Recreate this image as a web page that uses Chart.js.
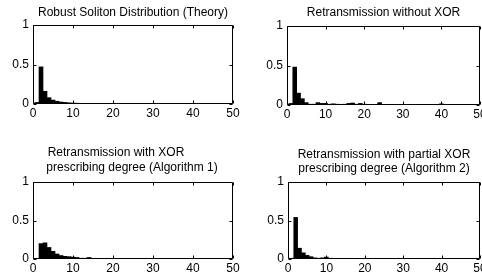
<!DOCTYPE html>
<html>
<head>
<meta charset="utf-8">
<script src="https://cdn.jsdelivr.net/npm/chart.js@4/dist/chart.umd.min.js"></script>
<style>
html, body { margin: 0; padding: 0; background: #fff; overflow: hidden; width: 482px; height: 279px; }
canvas { position: absolute; }
</style>
</head>
<body>
<canvas id="c1" width="241" height="140" style="left:0;top:0"></canvas>
<canvas id="c2" width="260" height="140" style="left:241px;top:0"></canvas>
<canvas id="c3" width="241" height="139" style="left:0;top:140px"></canvas>
<canvas id="c4" width="260" height="139" style="left:241px;top:140px"></canvas>
<script>
// degree 1..50
var degrees = [1, 2, 3, 4, 5, 6, 7, 8, 9, 10,
    11, 12, 13, 14, 15, 16, 17, 18, 19, 20,
    21, 22, 23, 24, 25, 26, 27, 28, 29, 30,
    31, 32, 33, 34, 35, 36, 37, 38, 39, 40,
    41, 42, 43, 44, 45, 46, 47, 48, 49, 50];

// 理论分布
var theory = [0.02, 0.47, 0.16, 0.08, 0.05, 0.035, 0.025, 0.02, 0.015, 0.012,
    0.01, 0.008, 0.007, 0.006, 0.005, 0.004, 0.004, 0.003, 0, 0,
    0, 0, 0, 0, 0, 0, 0, 0, 0, 0,
    0, 0, 0, 0, 0, 0, 0, 0, 0, 0,
    0, 0, 0, 0, 0, 0, 0, 0, 0, 0];

// 无XOR重传
var noXor = [0.02, 0.48, 0.15, 0.08, 0.03, 0.01, 0.01, 0.03, 0.02, 0.02,
    0.01, 0.015, 0.01, 0.005, 0.01, 0.02, 0.025, 0.01, 0.02, 0.01,
    0, 0, 0, 0.03, 0, 0, 0, 0, 0, 0.005,
    0, 0, 0, 0, 0, 0, 0, 0, 0, 0.015,
    0, 0, 0, 0, 0, 0, 0, 0, 0, 0];

// 算法1
var alg1 = [0, 0.20, 0.21, 0.15, 0.10, 0.065, 0.045, 0.035, 0.03, 0.025,
    0.02, 0.01, 0.01, 0.02, 0.005, 0.005, 0.003, 0.003, 0, 0,
    0, 0, 0, 0, 0, 0.004, 0, 0, 0, 0,
    0, 0, 0, 0, 0, 0, 0, 0, 0, 0,
    0, 0, 0, 0, 0, 0, 0, 0, 0, 0];

// 算法2
var alg2 = [0.01, 0.54, 0.14, 0.08, 0.047, 0.03, 0.015, 0.01, 0.015, 0.025,
    0.01, 0, 0.005, 0.005, 0, 0, 0, 0, 0, 0,
    0, 0, 0, 0, 0, 0, 0, 0, 0, 0,
    0, 0, 0, 0, 0, 0, 0, 0, 0, 0,
    0, 0, 0, 0, 0, 0, 0, 0, 0, 0];

var xTicks = [0, 10, 20, 30, 40, 50];
var yTicks = [0, 0.5, 1];

var FONT = '"Liberation Sans", Arial, Helvetica, sans-serif';

// 边框和内向刻度
var framePlugin = {
    id: 'mframe',
    afterDatasetsDraw: function (chart) {
        var a = chart.chartArea, ctx = chart.ctx;
        var xs = chart.scales.x, ys = chart.scales.y;
        var l = Math.round(a.left) + 0.5, r = Math.round(a.right) - 0.5;
        var t = Math.round(a.top) + 0.5, b = Math.round(a.bottom) - 0.5;
        ctx.save();
        ctx.strokeStyle = '#000';
        ctx.lineWidth = 1;
        ctx.beginPath();
        ctx.rect(l, t, r - l, b - t);
        for (var i = 0; i < xTicks.length; i++) {
            var px = Math.round(xs.getPixelForValue(xTicks[i])) + 0.5;
            ctx.moveTo(px, b); ctx.lineTo(px, b - 3);
            ctx.moveTo(px, t); ctx.lineTo(px, t + 3);
        }
        for (var j = 0; j < yTicks.length; j++) {
            var py = Math.round(ys.getPixelForValue(yTicks[j])) + 0.5;
            ctx.moveTo(l, py); ctx.lineTo(l + 3, py);
            ctx.moveTo(r, py); ctx.lineTo(r - 3, py);
        }
        ctx.stroke();
        ctx.restore();
    }
};

// 标题
var titlePlugin = {
    id: 'mtitle',
    afterDraw: function (chart, args, opts) {
        var a = chart.chartArea, ctx = chart.ctx;
        var cx = (a.left + a.right) / 2;
        ctx.save();
        ctx.fillStyle = '#000';
        ctx.font = '12px ' + FONT;
        ctx.textAlign = 'center';
        ctx.textBaseline = 'middle';
        for (var i = 0; i < opts.lines.length; i++) {
            var ln = opts.lines[i];
            ctx.fillText(ln.text, cx + ln.dx, ln.y);
        }
        ctx.restore();
    }
};

function makeChart(id, values, lines, geo) {
    var pts = [];
    for (var i = 0; i < degrees.length; i++) {
        pts.push({ x: degrees[i], y: values[i] });
    }
    return new Chart(document.getElementById(id), {
        type: 'bar',
        data: {
            datasets: [{
                data: pts,
                backgroundColor: '#000',
                borderWidth: 0,
                barPercentage: 1,
                categoryPercentage: 1
            }]
        },
        options: {
            responsive: false,
            animation: false,
            events: [],
            layout: { padding: { top: geo.top, right: geo.right, left: 0, bottom: 0 } },
            plugins: {
                legend: { display: false },
                tooltip: { enabled: false },
                mframe: {},
                mtitle: { lines: lines }
            },
            scales: {
                x: {
                    type: 'linear',
                    offset: false,
                    min: 0,
                    max: 50,
                    grid: { display: false, drawTicks: false },
                    border: { display: false },
                    ticks: {
                        stepSize: 10,
                        padding: 2,
                        color: '#000',
                        maxRotation: 0,
                        font: { family: FONT, size: 12 }
                    },
                    afterFit: function (s) {
                        s.height = geo.xh;
                        s.paddingLeft = 0;
                        s.paddingRight = 0;
                    }
                },
                y: {
                    min: 0,
                    max: 1,
                    grid: { display: false, drawTicks: false },
                    border: { display: false },
                    ticks: {
                        stepSize: 0.5,
                        padding: 4,
                        color: '#000',
                        font: { family: FONT, size: 12 },
                        callback: function (v) { return String(v); }
                    },
                    afterFit: function (s) {
                        s.width = geo.yw;
                        s.paddingTop = 0;
                        s.paddingBottom = 0;
                    }
                }
            }
        },
        plugins: [framePlugin, titlePlugin]
    });
}

makeChart('c1', theory,
    [{ text: 'Robust Soliton Distribution (Theory)', dx: 0, y: 13 }],
    { top: 25, right: 8, yw: 33, xh: 36 });
makeChart('c2', noXor,
    [{ text: 'Retransmission without XOR', dx: 0, y: 13 }],
    { top: 26, right: 21, yw: 46, xh: 35 });
makeChart('c3', alg1,
    [{ text: 'Retransmission with XOR', dx: -17, y: 13 },
     { text: 'prescribing degree (Algorithm 1)', dx: -1, y: 28 }],
    { top: 42, right: 8, yw: 33, xh: 20 });
makeChart('c4', alg2,
    [{ text: 'Retransmission with partial XOR', dx: 0, y: 15 },
     { text: 'prescribing degree (Algorithm 2)', dx: 0, y: 29 }],
    { top: 42, right: 21, yw: 47, xh: 20 });
</script>
</body>
</html>
